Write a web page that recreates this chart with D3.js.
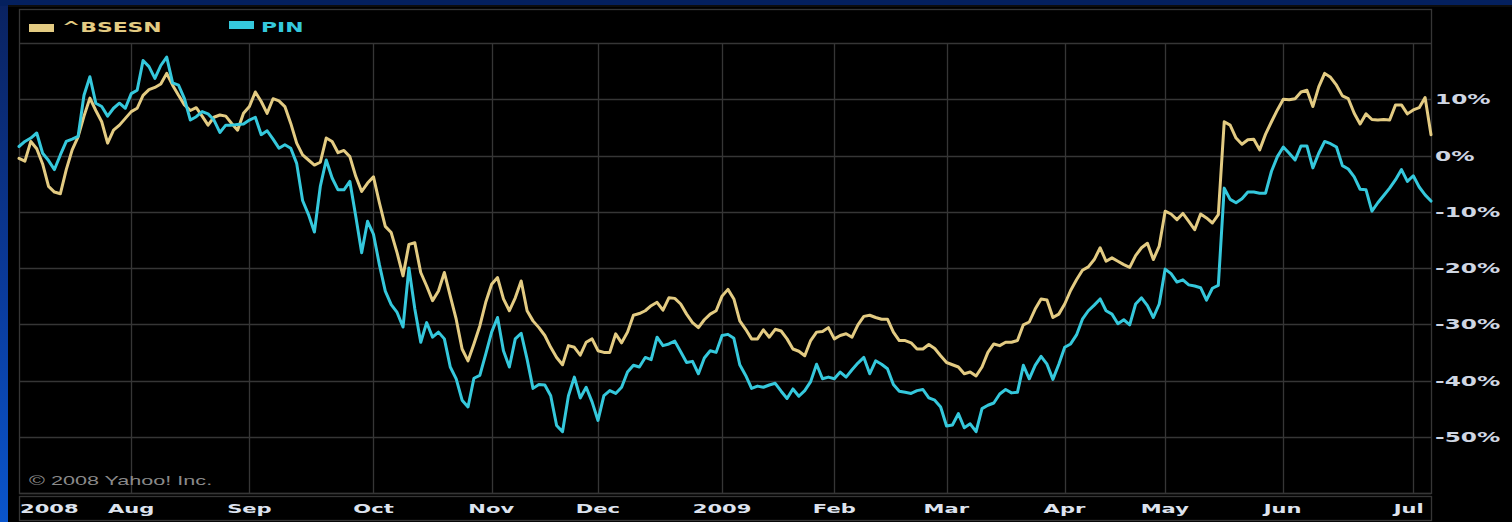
<!DOCTYPE html>
<html>
<head>
<meta charset="utf-8">
<script src="https://cdn.jsdelivr.net/npm/d3@7/dist/d3.min.js"></script>
<style>
  html, body { margin: 0; padding: 0; background: #000; overflow: hidden; }
  svg { display: block; }
</style>
</head>
<body>
<svg id="chart" width="1512" height="522"></svg>
<script>
// ---------- DATA ----------
const seriesNames = ["^BSESN", "PIN"];
// % change, one value per trading day (index 0 .. 239)
const bsesn = [
  -0.5,-1.0,2.5,1.2,-1.5,-5.5,-6.5,-6.8,-2.5,1.0,
  3.3,7.0,10.2,8.0,6.0,2.2,4.5,5.4,6.6,7.8,
  8.4,10.7,11.7,12.1,12.7,14.6,12.5,10.7,9.0,8.0,
  8.5,7.0,5.4,6.8,7.2,7.0,5.7,4.5,7.5,8.7,
  11.3,9.6,7.5,10.1,9.7,8.7,5.7,2.2,0.1,-0.8,
  -1.7,-1.2,3.1,2.5,0.5,0.9,-0.2,-3.7,-6.4,-4.9,
  -3.8,-8.4,-12.6,-13.7,-17.3,-21.4,-15.8,-15.5,-20.8,-23.2,
  -25.8,-24.1,-20.8,-25.0,-29.1,-34.4,-36.5,-33.5,-30.3,-26.1,
  -22.9,-21.7,-25.5,-27.6,-25.3,-22.3,-27.6,-29.4,-30.6,-32.0,
  -34.1,-35.9,-37.2,-33.8,-34.1,-35.5,-33.2,-32.6,-34.7,-35.0,
  -35.0,-31.7,-33.3,-31.4,-28.4,-28.1,-27.6,-26.7,-26.1,-27.5,
  -25.3,-25.4,-26.4,-28.2,-29.7,-30.6,-29.2,-28.2,-27.6,-25.0,
  -23.8,-25.5,-29.4,-30.9,-32.6,-32.6,-31.0,-32.3,-30.9,-31.2,
  -32.6,-34.4,-34.8,-35.6,-32.9,-31.4,-31.3,-30.6,-32.6,-32.0,
  -31.7,-32.3,-30.1,-28.6,-28.4,-28.8,-29.1,-29.1,-31.4,-32.9,
  -32.9,-33.3,-34.4,-34.4,-33.6,-34.3,-35.6,-36.8,-37.2,-37.6,
  -38.8,-38.5,-39.2,-37.6,-35.0,-33.5,-33.8,-33.2,-33.2,-32.9,
  -30.1,-29.6,-27.3,-25.5,-25.7,-28.8,-28.2,-26.4,-24.0,-22.1,
  -20.4,-19.8,-18.5,-16.4,-18.8,-18.2,-18.8,-19.4,-19.9,-17.8,
  -16.4,-15.6,-18.5,-16.1,-9.9,-10.4,-11.4,-10.3,-11.7,-13.2,
  -10.4,-11.1,-12.0,-10.5,6.0,5.4,3.1,2.0,2.8,2.9,
  1.0,3.8,6.0,8.1,10.0,9.9,10.1,11.3,11.6,8.7,
  12.2,14.6,13.9,12.5,10.6,10.1,7.5,5.6,7.4,6.4,
  6.3,6.4,6.3,9.0,9.0,7.4,8.1,8.5,10.3,3.7
];
const pin = [
  1.6,2.5,3.1,4.0,0.4,-0.9,-2.5,0.1,2.5,2.9,
  3.4,10.7,14.0,9.3,8.7,7.0,8.4,9.3,8.4,11.0,
  11.6,16.9,15.8,13.7,16.0,17.5,12.9,12.5,10.1,6.3,
  6.9,7.8,7.4,6.3,4.1,5.4,5.4,5.5,5.6,6.3,
  6.8,3.7,4.4,2.9,1.3,1.9,1.3,-1.4,-8.0,-10.5,
  -13.6,-5.5,-0.8,-4.0,-6.1,-6.1,-4.6,-10.8,-17.3,-11.7,
  -14.0,-19.4,-24.1,-26.5,-27.9,-30.5,-20.0,-27.3,-33.2,-29.7,
  -32.3,-31.4,-32.6,-37.6,-39.7,-43.5,-44.7,-39.6,-39.1,-35.3,
  -31.4,-28.8,-34.7,-37.6,-32.6,-31.6,-36.2,-41.4,-40.7,-40.8,
  -42.7,-48.0,-49.1,-42.7,-39.4,-43.1,-41.2,-43.8,-47.1,-42.7,
  -41.8,-42.3,-41.2,-38.5,-37.3,-37.6,-35.9,-36.3,-32.3,-33.8,
  -33.5,-33.0,-34.9,-36.8,-36.6,-38.8,-36.0,-34.7,-35.0,-32.0,
  -31.8,-32.5,-37.2,-39.1,-41.4,-41.0,-41.2,-40.8,-40.5,-41.9,
  -43.2,-41.5,-42.8,-41.8,-40.2,-37.1,-39.7,-39.4,-39.7,-38.5,
  -39.4,-38.1,-36.9,-35.9,-38.8,-36.5,-37.1,-37.9,-40.7,-41.9,
  -42.1,-42.3,-41.8,-41.6,-43.1,-43.5,-44.7,-48.1,-47.9,-45.9,
  -48.4,-47.7,-49.1,-45.0,-44.4,-44.0,-42.4,-41.6,-42.2,-42.1,
  -37.3,-39.7,-37.3,-35.7,-37.1,-39.8,-37.1,-34.1,-33.5,-31.9,
  -29.1,-27.6,-26.6,-25.5,-27.6,-28.2,-29.9,-29.2,-30.1,-26.4,
  -25.3,-26.7,-28.8,-26.4,-20.2,-21.0,-22.5,-22.1,-23.0,-23.2,
  -23.5,-25.7,-23.6,-23.1,-5.8,-7.8,-8.4,-7.7,-6.5,-6.5,
  -6.7,-6.7,-2.8,-0.2,1.5,0.4,-0.8,1.7,1.7,-2.2,
  0.4,2.5,2.1,1.5,-1.8,-2.4,-3.8,-6.0,-6.1,-9.9,
  -8.4,-7.1,-5.8,-4.3,-2.5,-4.6,-3.6,-5.6,-7.0,-8.1
];
// x-axis: label and trading-day index of first day of each month
const monthLabels = ["2008","Aug","Sep","Oct","Nov","Dec","2009","Feb","Mar","Apr","May","Jun","Jul"];
const monthIndex  = [0, 19, 39, 60, 80, 98, 119, 138, 157, 177, 194, 214, 236];
// y-axis ticks (percent)
const yTicks = [10, 0, -10, -20, -30, -40, -50];
const yGrid  = [20, 10, 0, -10, -20, -30, -40, -50, -60];
const copyright = "\u00A9 2008 Yahoo! Inc.";

// ---------- STYLE ----------
const W = 1512, H = 522;
const plot = { left: 19, right: 1431, top: 43, bottom: 493 };
const colors = { "^BSESN": "#e3cb82", "PIN": "#35c8dc" };
const gridColor = "#363636";
const SX = 1.62; // horizontal stretch of the original raster text

const svg = d3.select("#chart");

// background: blue border
const defs = svg.append("defs");
const grad = defs.append("linearGradient").attr("id", "blueGrad")
  .attr("x1", 0).attr("y1", 0).attr("x2", 0).attr("y2", 1);
grad.append("stop").attr("offset", "0%").attr("stop-color", "#0a2260");
grad.append("stop").attr("offset", "55%").attr("stop-color", "#0a3a9a");
grad.append("stop").attr("offset", "100%").attr("stop-color", "#0a55cc");
const soft = defs.append("filter").attr("id", "soft").attr("x", "-2%").attr("y", "-2%").attr("width", "104%").attr("height", "104%");
soft.append("feGaussianBlur").attr("stdDeviation", 0.35);

svg.append("rect").attr("x", 0).attr("y", 0).attr("width", W).attr("height", H).attr("fill", "url(#blueGrad)");
svg.append("rect").attr("x", 0).attr("y", 0).attr("width", W).attr("height", 6).attr("fill", "#04205e");
svg.append("rect").attr("x", 8).attr("y", 5).attr("width", W - 8).attr("height", H - 5).attr("fill", "#000");
svg.append("rect").attr("x", 8).attr("y", 5).attr("width", W - 8).attr("height", 2).attr("fill", "#0d0d0d");

// scales
const x = d3.scaleLinear().domain([0, bsesn.length - 1]).range([plot.left, plot.right]);
const y = d3.scaleLinear().domain([-60, 20]).range([plot.bottom, plot.top]);

const g = svg.append("g");

// horizontal grid
g.selectAll("line.hg").data(yGrid).join("line")
  .attr("x1", plot.left).attr("x2", plot.right)
  .attr("y1", d => Math.round(y(d)) + 0.5).attr("y2", d => Math.round(y(d)) + 0.5)
  .attr("stroke", gridColor).attr("stroke-width", 1.3);

// vertical grid (month starts)
g.selectAll("line.vg").data(monthIndex.filter(i => i > 0)).join("line")
  .attr("x1", d => Math.round(x(d)) + 0.5).attr("x2", d => Math.round(x(d)) + 0.5)
  .attr("y1", plot.top).attr("y2", plot.bottom)
  .attr("stroke", gridColor).attr("stroke-width", 1.3);

// frame (legend box + plot)
g.append("rect").attr("x", plot.left + 0.5).attr("y", 9.5)
  .attr("width", plot.right - plot.left).attr("height", plot.bottom - 9)
  .attr("fill", "none").attr("stroke", gridColor).attr("stroke-width", 1.3);
// axis box
g.append("rect").attr("x", plot.left + 0.5).attr("y", 496.5)
  .attr("width", plot.right - plot.left).attr("height", 24)
  .attr("fill", "none").attr("stroke", gridColor).attr("stroke-width", 1.3);

// stretched text helper
function stretchedText(parent, str, px, py, opts) {
  const t = parent.append("text")
    .attr("transform", `translate(${px},${py}) scale(${opts.sx || SX},1)`)
    .attr("font-family", opts.family || "'DejaVu Sans', Verdana, sans-serif")
    .attr("font-weight", opts.weight || "bold")
    .attr("font-size", opts.size || 13)
    .attr("fill", opts.fill || "#d8dee8")
    .text(str);
  return t;
}

// copyright
stretchedText(g, copyright, 29, 485, { family: "'Liberation Sans', Arial, sans-serif", weight: "normal", size: 13.5, fill: "#8a8a8a", sx: 1.6 });

// lines
const line = d3.line().x((d, i) => x(i)).y(d => y(d)).curve(d3.curveLinear);
const series = [{ name: "^BSESN", values: bsesn }, { name: "PIN", values: pin }];
g.selectAll("path.series").data(series).join("path")
  .attr("d", d => line(d.values))
  .attr("fill", "none")
  .attr("stroke", d => colors[d.name])
  .attr("stroke-width", 3)
  .attr("stroke-linejoin", "round")
  .attr("stroke-linecap", "round")
  .attr("filter", "url(#soft)");

// legend
const legendPos = [{ sx: 29, sy: 24, tx: 62 }, { sx: 229, sy: 21, tx: 261 }];
seriesNames.forEach((name, i) => {
  const p = legendPos[i];
  g.append("rect").attr("x", p.sx).attr("y", p.sy).attr("width", 25).attr("height", 8).attr("fill", colors[name]);
  stretchedText(g, name, p.tx, 32, { size: 13.5, fill: colors[name] });
});

// y-axis labels (right)
yTicks.forEach(v => {
  stretchedText(g, v + "%", 1435, y(v) + 5, { size: 13.5, fill: "#cfd6e2", sx: 1.72 });
});

// x-axis labels
monthLabels.forEach((lab, i) => {
  const cx = x(monthIndex[i]);
  const t = stretchedText(g, lab, 0, 513, { size: 13, fill: "#dde3ee" });
  const w = t.node().getBBox().width * SX;
  let left = cx - w / 2;
  if (left < plot.left + 1) left = plot.left + 1;
  if (left + w > plot.right - 6) left = plot.right - 6 - w;
  t.attr("transform", `translate(${left},513) scale(${SX},1)`);
});
</script>
</body>
</html>
